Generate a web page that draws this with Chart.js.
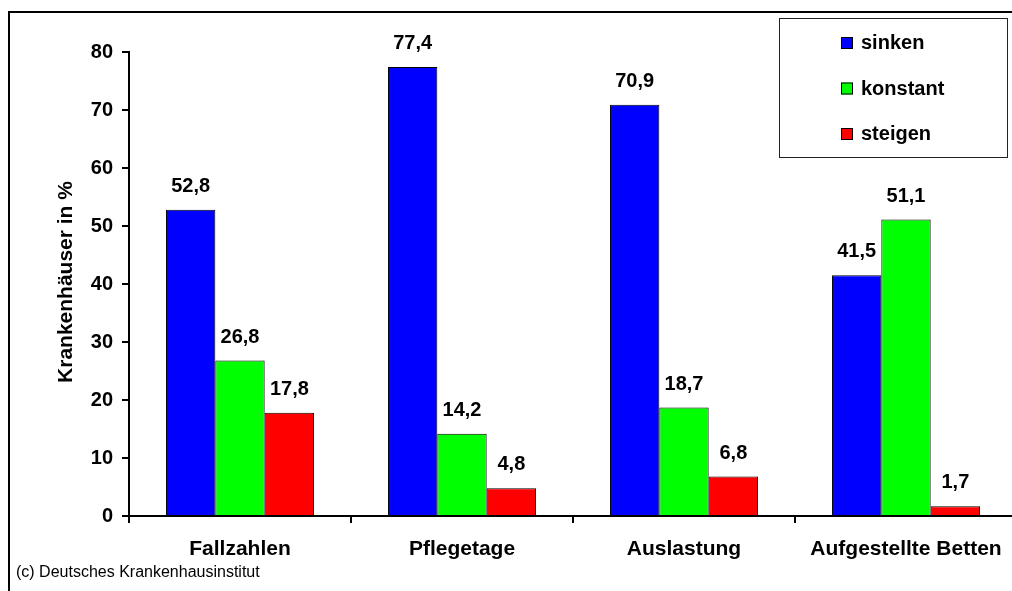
<!DOCTYPE html>
<html lang="de">
<head>
<meta charset="utf-8">
<title>Krankenhäuser – Erwartete Entwicklung</title>
<script src="https://cdn.jsdelivr.net/npm/chart.js@4/dist/chart.umd.min.js"></script>
<style>
  html, body { margin: 0; padding: 0; background: #fff; overflow: hidden; }
  #wrap { position: absolute; left: 0; top: 0; width: 1040px; height: 620px; }
</style>
</head>
<body>
<div id="wrap"><canvas id="c"></canvas></div>
<script>
// Kategorien und Anteile (in %)
const categories = ['Fallzahlen', 'Pflegetage', 'Auslastung', 'Aufgestellte Betten'];
const sinken   = [52.8, 77.4, 70.9, 41.5];
const konstant = [26.8, 14.2, 18.7, 51.1];
const steigen  = [17.8, 4.8, 6.8, 1.7];
const seriesNames = ['sinken', 'konstant', 'steigen'];
const seriesColors = ['#0000ff', '#00ff00', '#ff0000'];
const yTicks = [0, 10, 20, 30, 40, 50, 60, 70, 80];
const yTitle = 'Krankenhäuser in %';
const sourceNote = '(c) Deutsches Krankenhausinstitut';

const FONT = '"Liberation Sans", Arial, sans-serif';
const fmt = v => v.toFixed(1).replace('.', ',');

// Rahmen, Achsentitel und Quellenangabe
const framePlugin = {
  id: 'frame',
  afterDraw(chart) {
    const ctx = chart.ctx;
    ctx.save();
    ctx.strokeStyle = '#000';
    ctx.lineWidth = 2;
    ctx.strokeRect(9, 12, 1200, 800);

    ctx.fillStyle = '#000';
    ctx.font = 'bold 21px ' + FONT;
    ctx.textAlign = 'center';
    ctx.textBaseline = 'middle';
    ctx.translate(66, 282);
    ctx.rotate(-Math.PI / 2);
    ctx.fillText(yTitle, 0, 0);
    ctx.restore();

    ctx.save();
    ctx.fillStyle = '#000';
    ctx.font = '16px ' + FONT;
    ctx.textAlign = 'left';
    ctx.textBaseline = 'alphabetic';
    ctx.fillText(sourceNote, 16, 577);
    ctx.restore();
  }
};

// Werte über den Balken
const valueLabels = {
  id: 'valueLabels',
  afterDatasetsDraw(chart) {
    const ctx = chart.ctx;
    ctx.save();
    ctx.fillStyle = '#000';
    ctx.font = 'bold 20px ' + FONT;
    ctx.textAlign = 'center';
    ctx.textBaseline = 'alphabetic';
    chart.data.datasets.forEach((ds, i) => {
      chart.getDatasetMeta(i).data.forEach((bar, j) => {
        ctx.fillText(fmt(ds.data[j]), bar.x, bar.y - 18);
      });
    });
    ctx.restore();
  }
};

// Legendenkasten oben rechts
const legendBox = {
  id: 'legendBox',
  afterDraw(chart) {
    const ctx = chart.ctx;
    ctx.save();
    ctx.fillStyle = '#fff';
    ctx.fillRect(779, 18, 228, 139);
    ctx.strokeStyle = '#222';
    ctx.lineWidth = 1;
    ctx.strokeRect(779.5, 18.5, 228, 139);
    ctx.font = 'bold 20px ' + FONT;
    ctx.textAlign = 'left';
    ctx.textBaseline = 'alphabetic';
    chart.data.datasets.forEach((ds, i) => {
      const base = 49 + i * 45.5;
      ctx.fillStyle = ds.backgroundColor;
      ctx.fillRect(841, base - 12, 12, 12);
      ctx.strokeStyle = '#000';
      ctx.strokeRect(841.5, base - 11.5, 11, 11);
      ctx.fillStyle = '#000';
      ctx.fillText(ds.label, 861, base);
    });
    ctx.restore();
  }
};

const seriesData = [sinken, konstant, steigen];

new Chart(document.getElementById('c'), {
  type: 'bar',
  data: {
    labels: categories,
    datasets: seriesData.map((d, i) => ({
      label: seriesNames[i],
      data: d,
      backgroundColor: seriesColors[i],
      borderColor: '#000',
      borderWidth: 1,
      categoryPercentage: 0.667,
      barPercentage: 1.0
    }))
  },
  options: {
    responsive: true,
    maintainAspectRatio: false,
    animation: false,
    layout: { padding: { top: 52, right: 23, left: 0, bottom: 0 } },
    plugins: { legend: { display: false }, tooltip: { enabled: false } },
    scales: {
      x: {
        afterFit(s) { s.height = 104; },
        border: { color: '#000', width: 2 },
        grid: { drawOnChartArea: false, offset: true, color: '#000', lineWidth: 2, tickLength: 7 },
        ticks: { color: '#000', font: { family: FONT, size: 21, weight: 'bold' }, padding: 14, maxRotation: 0, autoSkip: false }
      },
      y: {
        min: 0,
        max: 80,
        afterFit(s) { s.width = 129; },
        afterBuildTicks(s) { s.ticks = yTicks.map(v => ({ value: v })); },
        border: { color: '#000', width: 2 },
        grid: { drawOnChartArea: false, color: '#000', lineWidth: 2, tickLength: 7 },
        ticks: { color: '#000', font: { family: FONT, size: 20, weight: 'bold' }, padding: 9 }
      }
    }
  },
  plugins: [framePlugin, valueLabels, legendBox]
});
</script>
</body>
</html>
